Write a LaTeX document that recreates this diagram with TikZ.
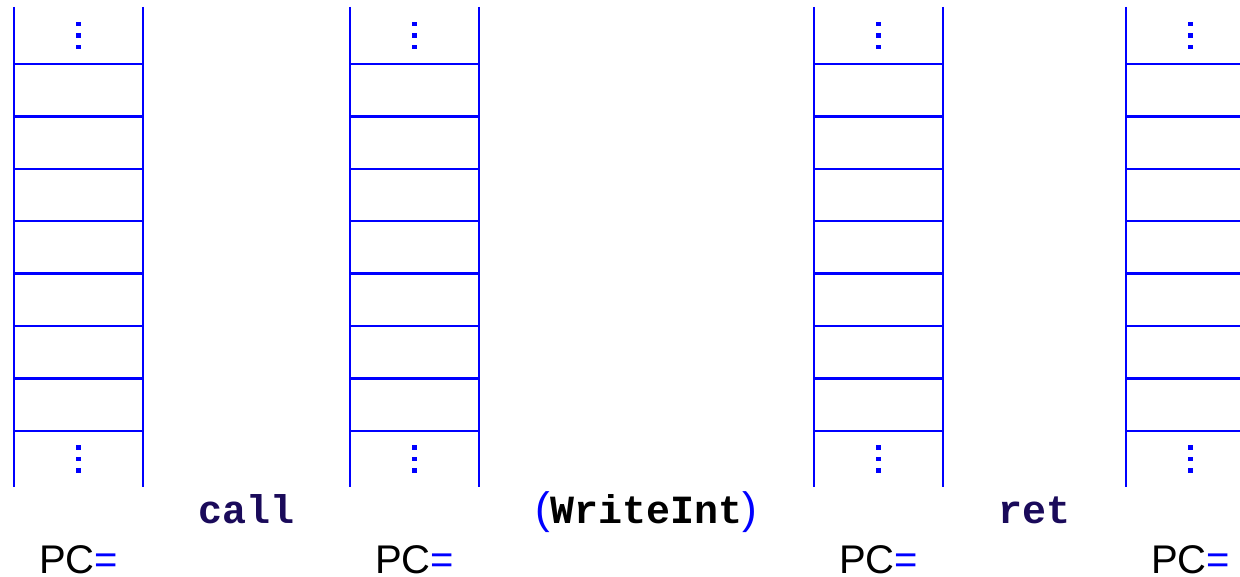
\documentclass[tikz,border=0pt]{standalone}
\usepackage{fontspec}
\setmainfont{Liberation Sans}
\setsansfont{Liberation Sans}
\setmonofont{Liberation Mono}
\definecolor{stackblue}{RGB}{0,0,255}
\definecolor{navy}{RGB}{26,10,90}
\tikzset{
  stackline/.style={draw=stackblue, line width=2.4pt},
  dotsq/.style={fill=stackblue},
  instr/.style={inner sep=0pt, anchor=base, font=\fontsize{40}{40}\selectfont\ttfamily\bfseries},
  pclabel/.style={inner sep=0pt, text depth=0pt, anchor=base west, font=\fontsize{40}{40}\selectfont\sffamily},
}
\begin{document}
\begin{tikzpicture}[x=1pt,y=-1pt]
\useasboundingbox (0,0) rectangle (1240,577);
\clip (0,0) rectangle (1240,577);
\foreach \L/\n in {14/a,350/b,814/c,1126/d}{
  \draw[stackline] (\L,7) -- (\L,487);
  \draw[stackline] (\L+129,7) -- (\L+129,487);
  \foreach \y in {64,116.4,168.8,221.2,273.6,326,378.4,430.8}{
    \draw[stackline] (\L,\y) -- (\L+129,\y);
  }
  \foreach \yc in {35.5,459}{
    \foreach \dy in {-11.5,0,11.5}{
      \fill[dotsq] (\L+64.5-2.2,\yc+\dy-2.2) rectangle (\L+64.5+2.2,\yc+\dy+2.2);
    }
  }
  \node[pclabel] (pc\n) at (\L+25,573) {PC\textcolor{stackblue}{=}};
}
\node[instr, text=navy] (call) at (246.5,523) {call};
\node[instr] (wi) at (646.5,523) {\textcolor{stackblue}{\fontsize{44}{44}\selectfont\sffamily\mdseries(}WriteInt\textcolor{stackblue}{\fontsize{44}{44}\selectfont\sffamily\mdseries)}};
\node[instr, text=navy] (ret) at (1034,523) {ret};
\end{tikzpicture}
\end{document}
